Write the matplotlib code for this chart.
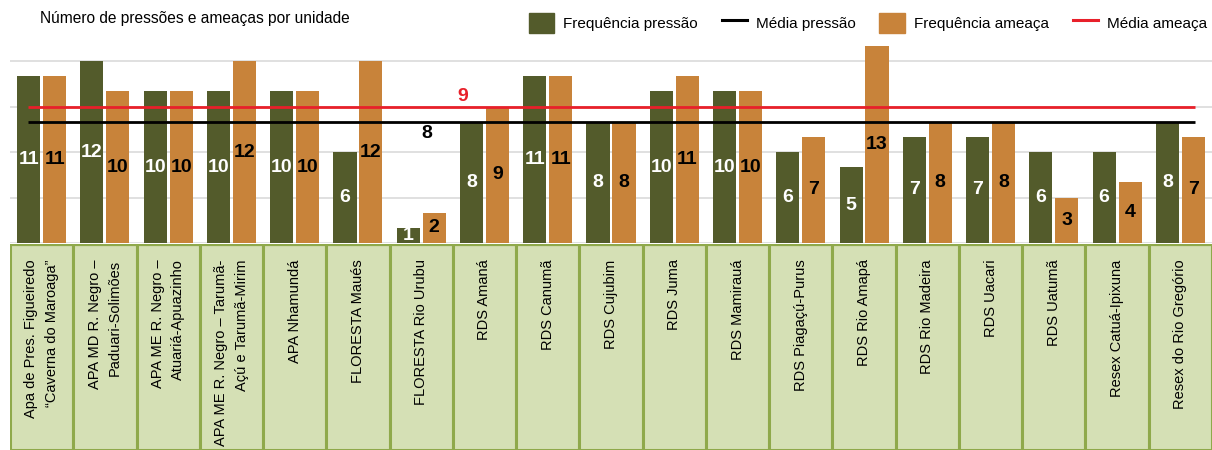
import matplotlib
matplotlib.use("Agg")
from matplotlib import pyplot as plt
from matplotlib import font_manager
from matplotlib.patches import Patch
from matplotlib.lines import Line2D
import numpy as np

# data
unidades = [
    "Apa de Pres. Figueiredo\n\u201cCaverna do Maroaga\u201d",
    "APA MD R. Negro \u2013\nPaduari-Solimões",
    "APA ME R. Negro \u2013\nAtuariá-Apuazinho",
    "APA ME R. Negro \u2013 Tarumã-\nAçú e Tarumã-Mirim",
    "APA Nhamundá",
    "FLORESTA Maués",
    "FLORESTA Rio Urubu",
    "RDS Amaná",
    "RDS Canumã",
    "RDS Cujubim",
    "RDS Juma",
    "RDS Mamirauá",
    "RDS Piagaçú-Purus",
    "RDS Rio Amapá",
    "RDS Rio Madeira",
    "RDS Uacari",
    "RDS Uatumã",
    "Resex Catuá-Ipixuna",
    "Resex do Rio Gregório",
]
freq_pressao = [11, 12, 10, 10, 10, 6, 1, 8, 11, 8, 10, 10, 6, 5, 7, 7, 6, 6, 8]
freq_ameaca = [11, 10, 10, 12, 10, 12, 2, 9, 11, 8, 11, 10, 7, 13, 8, 8, 3, 4, 7]
media_pressao = 8
media_ameaca = 9

VERDE = "#535b2b"
LARANJA = "#c8833a"
VERMELHO = "#e8202a"
FUNDO_TAB = "#d5e0b5"
BORDA_TAB = "#8fa94b"

# condensed font if we have it
nomes = {f.name for f in font_manager.fontManager.ttflist}
if "Liberation Sans Narrow" in nomes:
    FONTE = ["Liberation Sans Narrow", "DejaVu Sans"]
else:
    FONTE = ["Liberation Sans", "DejaVu Sans"]
plt.rcParams["font.family"] = FONTE

W, H = 1212, 450
fig = plt.figure(figsize=(W / 100, H / 100), dpi=100)

x0 = 10 / W
ax = fig.add_axes([x0, 1 - 243 / H, 1 - x0, (243 - 46) / H])
tab = fig.add_axes([x0, 0, 1 - x0, (H - 244) / H], sharex=ax)

x = np.arange(len(unidades))
larg = 0.365
desl = 0.205

ax.bar(x - desl, freq_pressao, larg, color=VERDE, zorder=2)
ax.bar(x + desl, freq_ameaca, larg, color=LARANJA, zorder=2)

for i in range(len(unidades)):
    ax.text(x[i] - desl, freq_pressao[i] / 2, str(freq_pressao[i]), color="white",
            ha="center", va="center", fontsize=14, fontweight="bold", zorder=4)
    ax.text(x[i] + desl, freq_ameaca[i] / 2, str(freq_ameaca[i]), color="black",
            ha="center", va="center", fontsize=14, fontweight="bold", zorder=4)

ax.hlines(media_ameaca, -0.215, 18.23, color=VERMELHO, lw=2, zorder=3)
ax.hlines(media_pressao, -0.215, 18.23, color="black", lw=2, zorder=3)
ax.text(6.66, media_ameaca + 0.7, str(media_ameaca), color=VERMELHO, ha="center",
        va="center", fontsize=14, fontweight="bold")
ax.text(6.09, media_pressao - 0.75, str(media_pressao), color="black", ha="center",
        va="center", fontsize=14, fontweight="bold")

ax.set_xlim(-0.5, len(unidades) - 0.5)
ax.set_ylim(0, 13)
ax.set_yticks([0, 3, 6, 9, 12])
ax.grid(axis="y", color="#dddddd", lw=1.3, zorder=0)
ax.tick_params(left=False, bottom=False, labelleft=False, labelbottom=False)
for s in ax.spines.values():
    s.set_visible(False)

# category table below
tab.bar(x, 1, 1, bottom=0, color=FUNDO_TAB, edgecolor=BORDA_TAB, linewidth=2.2)
tab.axhline(1, color=BORDA_TAB, lw=3)
for i, nome in enumerate(unidades):
    tab.text(x[i], 0.925, nome, rotation=90, ha="center", va="top",
             multialignment="right", fontsize=10.5, linespacing=1.6)
tab.set_ylim(0, 1.0)
tab.tick_params(left=False, bottom=False, labelleft=False, labelbottom=False)
for s in tab.spines.values():
    s.set_visible(False)

fig.text(40 / W, 1 - 18 / H, "Número de pressões e ameaças por unidade",
         fontsize=11.2, va="center", ha="left")

handles = [
    Patch(color=VERDE),
    Line2D([], [], color="black", lw=2.2),
    Patch(color=LARANJA),
    Line2D([], [], color=VERMELHO, lw=2.2),
]
rotulos = ["Frequência pressão", "Média pressão", "Frequência ameaça", "Média ameaça"]
fig.legend(handles, rotulos, loc="upper right", bbox_to_anchor=(1207 / W, 1 - 13 / H),
           ncol=4, frameon=False, fontsize=11, handlelength=1.65, handleheight=1.6,
           handletextpad=0.6, columnspacing=1.55, borderaxespad=0, borderpad=0)

fig.savefig("out.png", dpi=100)
